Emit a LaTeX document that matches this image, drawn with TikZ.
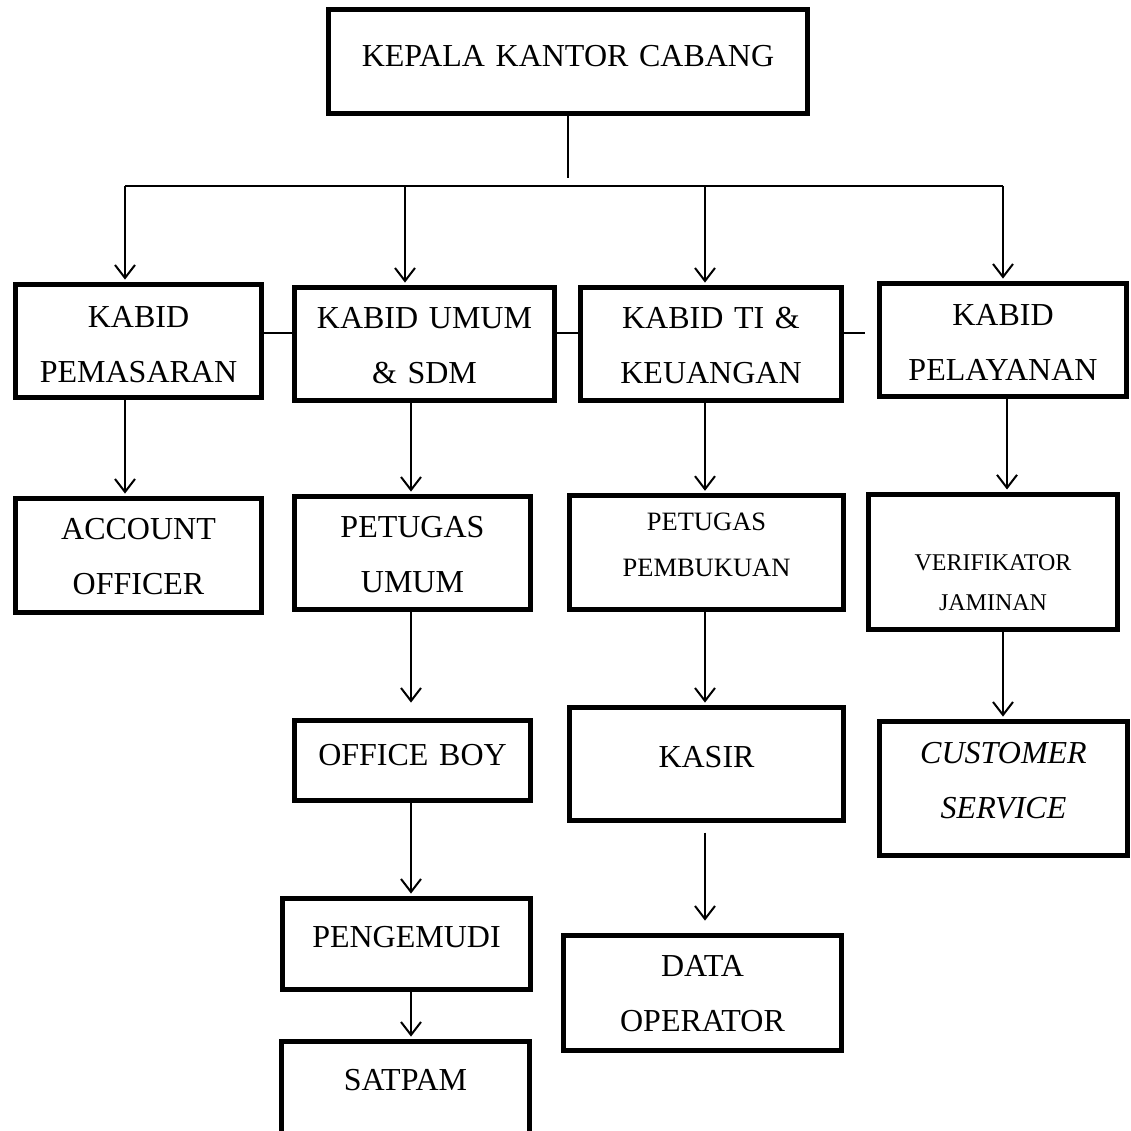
\documentclass[tikz,border=0pt]{standalone}
\usepackage{fontspec}
\setmainfont{Liberation Serif}
\usetikzlibrary{arrows.meta}

\tikzset{
  unitbox/.style={draw, line width=5pt, anchor=base, inner sep=0pt, align=center,
    font=\fontsize{32}{55}\selectfont},
  dims/.style n args={3}{text width=#1, text height=#2, text depth=#3},
  link/.style={line width=2pt},
  down/.style={link, -{Straight Barb[length=13pt,width=20pt]}, shorten >=2.5pt}
}

\begin{document}
\begin{tikzpicture}[x=1pt, y=-1pt]
  \useasboundingbox (0,0) rectangle (1130,1131);

  % Struktur organisasi kantor cabang
  \node[unitbox, dims={479pt}{57pt}{47pt}] (kepala) at (568,66.6) {KEPALA KANTOR CABANG};

  \node[unitbox, dims={246pt}{43pt}{70pt}] (pemasaran) at (138.5,327.6) {KABID\\PEMASARAN};
  \node[unitbox, dims={260pt}{41pt}{72pt}] (umum) at (424.5,328.6) {KABID UMUM\\\& SDM};
  \node[unitbox, dims={261pt}{41pt}{72pt}] (ti) at (711,328.6) {KABID TI \&\\KEUANGAN};
  \node[unitbox, dims={247pt}{42pt}{71pt}] (pelayanan) at (1003,325.6) {KABID\\PELAYANAN};

  \node[unitbox, dims={246pt}{41pt}{73pt}] (account) at (138.5,539.6) {ACCOUNT\\OFFICER};
  \node[unitbox, dims={236pt}{41pt}{72pt}] (petugasumum) at (412.5,537.6) {PETUGAS\\UMUM};
  \node[unitbox, dims={274pt}{35pt}{79pt}, font=\fontsize{26.5}{46}\selectfont] (pembukuan) at (706.5,530.8) {PETUGAS\\PEMBUKUAN};
  \node[unitbox, dims={249pt}{75.5pt}{59.5pt}, font=\fontsize{24}{40}\selectfont] (verifikator) at (993,570) {VERIFIKATOR\\JAMINAN};

  \node[unitbox, dims={236pt}{45pt}{35pt}] (officeboy) at (412.5,765.6) {OFFICE BOY};
  \node[unitbox, dims={274pt}{60pt}{53pt}] (kasir) at (706.5,767.6) {KASIR};
  \node[unitbox, dims={248pt}{42pt}{92pt}, font=\fontsize{32}{55}\selectfont\itshape] (cs) at (1003.5,763.6) {CUSTOMER\\SERVICE};

  \node[unitbox, dims={248pt}{49pt}{42pt}] (pengemudi) at (406.5,947.6) {PENGEMUDI};
  \node[unitbox, dims={278pt}{41pt}{74pt}] (dataop) at (702.5,976.6) {DATA\\OPERATOR};
  \node[unitbox, dims={248pt}{49pt}{80pt}] (satpam) at (405.5,1090.6) {SATPAM};

  % garis bantu
  \coordinate (top) at (0,178);
  \coordinate (bus) at (0,186);
  \coordinate (mid) at (0,333);
  \coordinate (c1) at (125,0);
  \coordinate (c2) at (405,0);
  \coordinate (c2b) at (411,0);
  \coordinate (c3) at (705,0);
  \coordinate (c4) at (1003,0);
  \coordinate (c4b) at (1007,0);

  \draw[link] (kepala.south) -- (kepala.south |- top);
  \draw[link] (c1 |- bus) -- (c4 |- bus);
  \foreach \c/\n in {c1/pemasaran, c2/umum, c3/ti, c4/pelayanan}
    \draw[down] (\c |- bus) -- (\c |- \n.north);

  \draw[link] (pemasaran.east |- mid) -- (umum.west |- mid);
  \draw[link] (umum.east |- mid) -- (ti.west |- mid);
  \draw[link, shorten >=12.5pt] (ti.east |- mid) -- (pelayanan.west |- mid);

  \foreach \c/\a/\b in {c1/pemasaran/account, c2b/umum/petugasumum, c3/ti/pembukuan,
      c4b/pelayanan/verifikator, c3/pembukuan/kasir, c4/verifikator/cs,
      c2b/officeboy/pengemudi, c2b/pengemudi/satpam}
    \draw[down] (\c |- \a.south) -- (\c |- \b.north);
  \draw[down, shorten >=15.5pt] (c2b |- petugasumum.south) -- (c2b |- officeboy.north);
  \draw[down, shorten <=9.5pt, shorten >=12.5pt] (c3 |- kasir.south) -- (c3 |- dataop.north);
\end{tikzpicture}
\end{document}
